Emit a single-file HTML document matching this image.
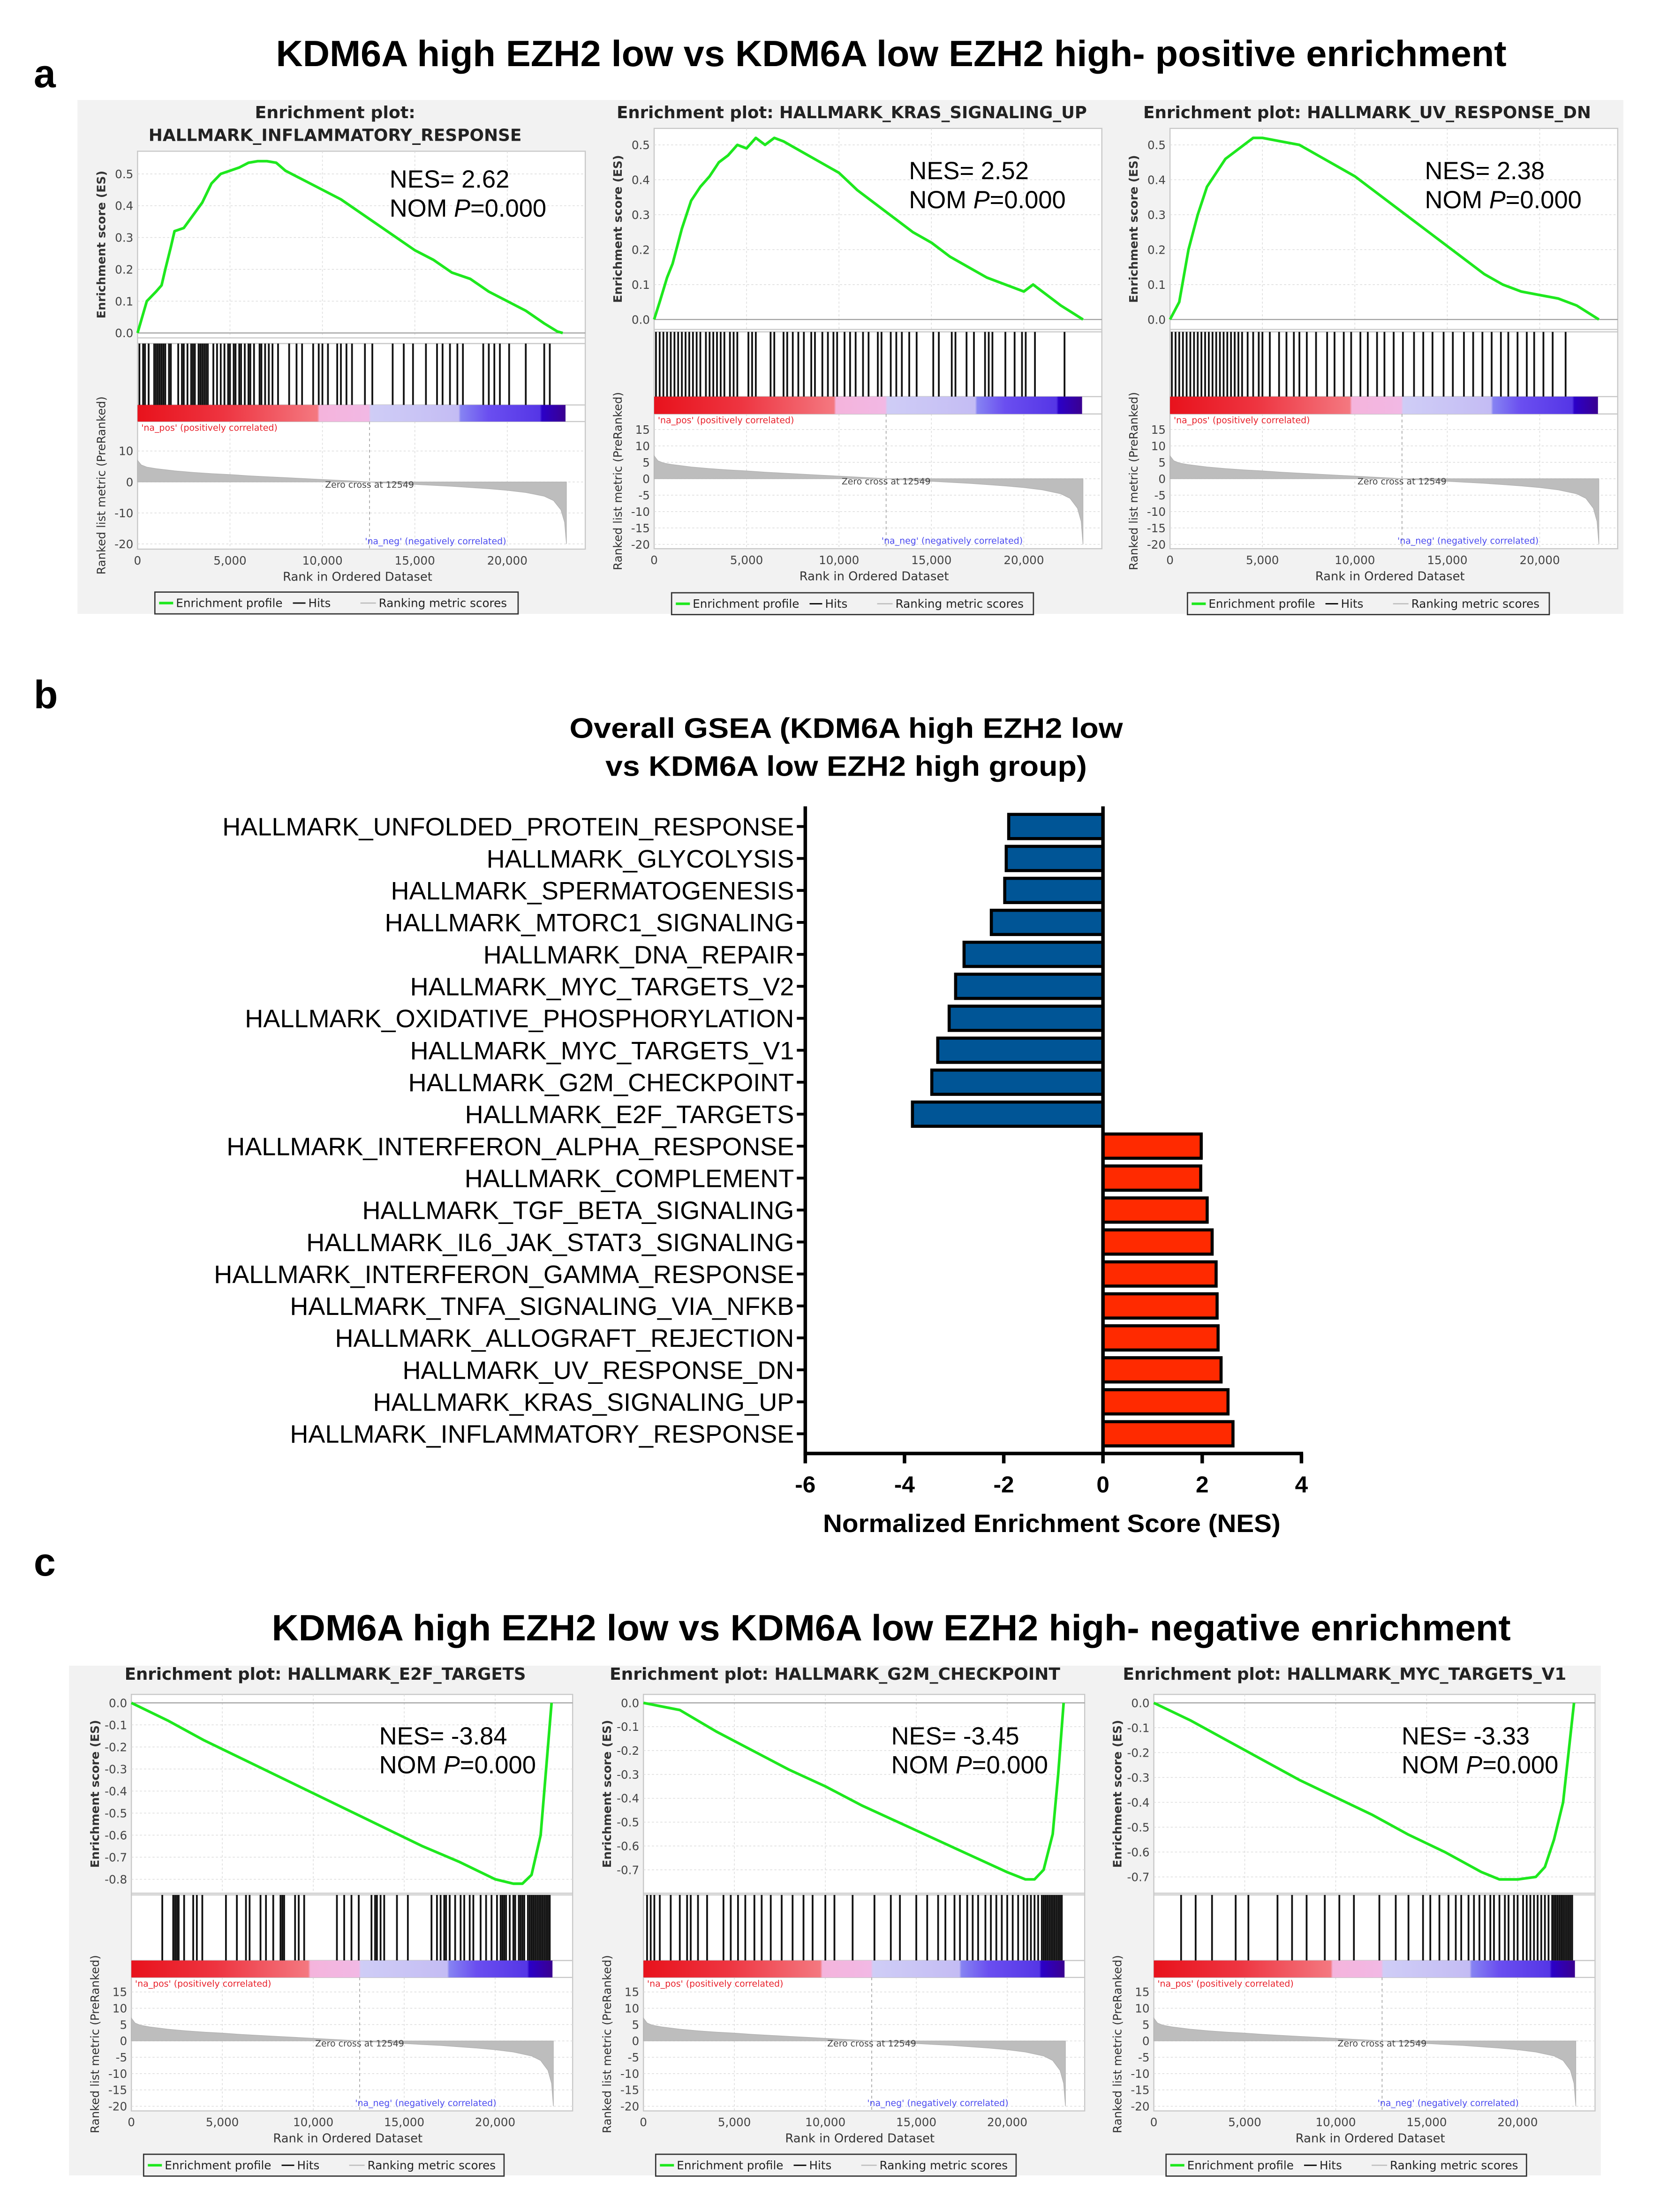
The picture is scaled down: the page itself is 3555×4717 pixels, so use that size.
<!DOCTYPE html>
<html><head><meta charset="utf-8"><title>GSEA KDM6A EZH2</title>
<style>
html,body{margin:0;padding:0;background:#fff;}
svg{display:block;}
</style></head>
<body>
<svg id="root" xmlns="http://www.w3.org/2000/svg" width="3555" height="4717" viewBox="0 0 1184 1571" preserveAspectRatio="none">
<rect x="0" y="0" width="1184" height="1571" fill="#fff"/>
<text x="24" y="62" font-family="Liberation Sans, sans-serif" font-weight="bold" font-size="28">a</text>
<text x="633" y="47" text-anchor="middle" textLength="874" lengthAdjust="spacingAndGlyphs" font-family="Liberation Sans, sans-serif" font-weight="bold" font-size="26">KDM6A high EZH2 low vs KDM6A low EZH2 high- positive enrichment</text>
<rect x="55" y="71" width="1098" height="365" fill="#f2f2f2"/>
<text x="24" y="503" font-family="Liberation Sans, sans-serif" font-weight="bold" font-size="28">b</text>
<text x="601" y="524" text-anchor="middle" textLength="393" lengthAdjust="spacingAndGlyphs" font-family="Liberation Sans, sans-serif" font-weight="bold" font-size="20">Overall GSEA (KDM6A high EZH2 low</text>
<text x="601" y="551" text-anchor="middle" textLength="342" lengthAdjust="spacingAndGlyphs" font-family="Liberation Sans, sans-serif" font-weight="bold" font-size="20">vs KDM6A low EZH2 high group)</text>
<text x="24" y="1119" font-family="Liberation Sans, sans-serif" font-weight="bold" font-size="28">c</text>
<text x="633" y="1165" text-anchor="middle" textLength="880" lengthAdjust="spacingAndGlyphs" font-family="Liberation Sans, sans-serif" font-weight="bold" font-size="26">KDM6A high EZH2 low vs KDM6A low EZH2 high- negative enrichment</text>
<rect x="49" y="1183" width="1088" height="362" fill="#f2f2f2"/>
<defs id="defs"></defs>
</svg>
<script>
// ---------- GSEA data (rank in thousands) ----------
const esInflRank = [0,0.3,0.5,1,1.3,1.5,1.8,2,2.5,3,3.5,4,4.5,5,5.5,6,6.5,7,7.5,8,9,10,11,12,13,14,15,16,17,18,19,20,21,22,22.7,23];
const esInflVal  = [0,0.06,0.1,0.13,0.15,0.2,0.27,0.32,0.33,0.37,0.41,0.47,0.5,0.51,0.52,0.535,0.54,0.54,0.535,0.51,0.48,0.45,0.42,0.38,0.34,0.3,0.26,0.23,0.19,0.17,0.13,0.1,0.07,0.03,0.005,0];
const esKrasRank = [0,0.3,0.7,1,1.5,2,2.5,3,3.5,4,4.5,5,5.5,6,6.5,7,8,9,10,11,12,13,14,15,16,17,18,19,20,20.5,21,22,23.2];
const esKrasVal  = [0,0.05,0.12,0.16,0.26,0.34,0.38,0.41,0.45,0.47,0.5,0.49,0.52,0.5,0.52,0.51,0.48,0.45,0.42,0.37,0.33,0.29,0.25,0.22,0.18,0.15,0.12,0.1,0.08,0.1,0.08,0.04,0];
const esUvRank = [0,0.5,1,1.5,2,2.5,3,3.5,4,4.5,5,6,7,8,9,10,11,12,13,14,15,16,17,18,19,20,21,22,23.2];
const esUvVal  = [0,0.05,0.2,0.3,0.38,0.42,0.46,0.48,0.5,0.52,0.52,0.51,0.5,0.47,0.44,0.41,0.37,0.33,0.29,0.25,0.21,0.17,0.13,0.1,0.08,0.07,0.06,0.04,0];
const esE2fRank = [0,2,4,6,8,10,12,14,16,18,20,21,21.5,22,22.5,22.8,23.1];
const esE2fVal  = [0,-0.08,-0.17,-0.25,-0.33,-0.41,-0.49,-0.57,-0.65,-0.72,-0.8,-0.82,-0.82,-0.78,-0.6,-0.3,0];
const esG2mRank = [0,2,4,6,8,10,12,14,16,18,20,21,21.5,22,22.5,22.8,23.1];
const esG2mVal  = [0,-0.03,-0.12,-0.2,-0.28,-0.35,-0.43,-0.5,-0.57,-0.64,-0.71,-0.74,-0.74,-0.7,-0.55,-0.3,0];
const esMycRank = [0,2,4,6,8,10,12,14,16,18,19,20,21,21.5,22,22.5,22.8,23.1];
const esMycVal  = [0,-0.07,-0.15,-0.23,-0.31,-0.38,-0.45,-0.53,-0.6,-0.68,-0.71,-0.71,-0.7,-0.66,-0.55,-0.4,-0.2,0];

const hitsInfl = [0.1,0.3,0.4,0.6,0.9,1.0,1.1,1.2,1.3,1.4,1.5,1.7,1.8,2.2,2.4,2.5,2.7,2.9,3.0,3.1,3.3,3.4,3.5,3.6,3.7,3.8,4.1,4.3,4.5,4.7,4.9,5.0,5.2,5.3,5.5,5.6,5.8,6.0,6.1,6.3,6.6,6.7,6.9,7.1,7.3,7.6,8.2,8.6,8.9,9.5,9.8,10.0,10.3,10.8,11.0,11.3,11.6,12.3,12.7,13.8,14.4,14.9,15.6,16.2,16.5,16.9,17.3,17.6,18.7,19.0,19.3,19.6,20.1,21.0,22.0,22.3];
const hitsKras = [0.1,0.3,0.5,0.7,0.9,1.1,1.3,1.5,1.7,1.9,2.1,2.3,2.5,2.8,3.0,3.2,3.4,3.6,3.8,4.1,4.3,4.5,5.1,5.3,5.5,6.3,6.5,7.0,7.2,7.5,7.8,8.1,8.5,8.7,9.1,9.4,9.7,9.9,10.3,10.6,10.9,11.3,11.6,12.1,12.3,12.8,13.1,13.4,13.8,14.2,15.1,15.4,16.1,16.3,16.9,17.3,17.9,18.1,18.3,19.0,19.5,19.9,20.1,20.6,22.2];
const hitsUv = [0.1,0.3,0.5,0.7,0.9,1.1,1.3,1.5,1.7,1.9,2.1,2.3,2.5,2.7,2.9,3.1,3.3,3.5,3.7,3.9,4.2,4.5,4.8,5.0,5.4,5.9,6.3,6.7,7.0,7.4,7.9,8.5,8.9,9.4,9.8,10.3,10.7,11.2,11.6,12.1,12.6,13.2,13.7,14.2,14.8,15.3,15.9,16.4,16.9,17.4,17.9,18.3,18.8,19.3,19.7,20.2,20.7,21.4];
const hitsE2f = [1.7,2.3,2.4,2.5,2.6,2.9,3.4,3.6,3.9,5.2,5.8,6.3,6.5,7.1,7.4,7.8,8.2,8.3,8.4,9.0,9.2,9.5,11.3,11.7,12.1,12.5,13.2,13.4,13.5,13.7,13.9,14.6,15.2,16.5,16.8,17.0,17.2,17.3,17.5,17.8,18.1,18.3,18.6,18.8,19.2,19.5,19.8,20.1,20.3,20.4,20.5,20.6,20.8,21.0,21.1,21.3,21.4,21.5,21.6,21.8,21.9,22.0,22.1,22.2,22.3,22.4,22.5,22.6,22.7,22.8,22.9,23.0];
const hitsG2m = [0.2,0.4,0.6,0.9,1.5,2.0,2.4,2.6,3.0,3.5,4.4,4.8,5.2,5.6,6.1,6.5,7.0,7.6,8.2,8.8,9.3,10.0,10.5,11.5,12.7,13.6,14.1,15.0,15.6,16.2,16.6,17.1,17.4,17.8,18.1,18.4,18.8,19.1,19.4,19.7,20.0,20.3,20.6,20.9,21.1,21.3,21.5,21.7,21.9,22.0,22.1,22.2,22.3,22.4,22.5,22.6,22.7,22.8,22.9,23.0];
const hitsMyc = [1.5,2.3,3.2,4.5,5.2,6.8,7.6,8.4,9.4,10.2,11.0,12.4,13.3,14.0,14.8,15.2,15.7,16.2,16.6,16.9,17.3,17.6,17.9,18.2,18.5,18.7,19.0,19.3,19.5,19.8,20.0,20.3,20.5,20.7,20.9,21.1,21.3,21.5,21.7,21.9,22.0,22.1,22.2,22.3,22.4,22.5,22.6,22.7,22.8,22.9,23.0];

const metricRank = [0,0.2,0.5,1,2,3,4,5,6,7,8,9,10,11,12,12.549,13,14,15,16,17,18,19,20,21,22,22.5,22.9,23.1,23.2];
const metricVal  = [7,5.5,4.8,4.3,3.6,3.1,2.7,2.4,2.0,1.7,1.4,1.1,0.8,0.5,0.2,0,-0.2,-0.5,-0.8,-1.1,-1.4,-1.8,-2.2,-2.7,-3.4,-4.6,-6,-9,-13,-20];
const zeroCross = 12.549;
const rankTicks = [0,5,10,15,20];
const rankTickLabels = ['0','5,000','10,000','15,000','20,000'];

// ---------- Bar chart data ----------
const barCategories = ['HALLMARK_UNFOLDED_PROTEIN_RESPONSE','HALLMARK_GLYCOLYSIS','HALLMARK_SPERMATOGENESIS','HALLMARK_MTORC1_SIGNALING','HALLMARK_DNA_REPAIR','HALLMARK_MYC_TARGETS_V2','HALLMARK_OXIDATIVE_PHOSPHORYLATION','HALLMARK_MYC_TARGETS_V1','HALLMARK_G2M_CHECKPOINT','HALLMARK_E2F_TARGETS','HALLMARK_INTERFERON_ALPHA_RESPONSE','HALLMARK_COMPLEMENT','HALLMARK_TGF_BETA_SIGNALING','HALLMARK_IL6_JAK_STAT3_SIGNALING','HALLMARK_INTERFERON_GAMMA_RESPONSE','HALLMARK_TNFA_SIGNALING_VIA_NFKB','HALLMARK_ALLOGRAFT_REJECTION','HALLMARK_UV_RESPONSE_DN','HALLMARK_KRAS_SIGNALING_UP','HALLMARK_INFLAMMATORY_RESPONSE'];
const barNES = [-1.9,-1.95,-1.98,-2.25,-2.8,-2.97,-3.1,-3.33,-3.45,-3.84,1.98,1.97,2.1,2.2,2.28,2.3,2.32,2.38,2.52,2.62];
const nesTicks = [-6,-4,-2,0,2,4];
const nesTickLabels = ['-6','-4','-2','0','2','4'];

const NS = 'http://www.w3.org/2000/svg';
const root = document.getElementById('root');
const defs = document.getElementById('defs');
function mk(tag, attrs, parent){
  const e = document.createElementNS(NS, tag);
  for (const k in attrs) e.setAttribute(k, attrs[k]);
  (parent || root).appendChild(e);
  return e;
}
const GF = 'DejaVu Sans, Liberation Sans, sans-serif';

function drawPanel(c){
  const g = mk('g', {});
  
  
  const X = r => c.x0 + r * c.pxk;
  const Yes = v => c.es0 - v * c.esS;
  const Ym = v => c.m0 - v * c.mS;
  let e;
  e = mk('rect', {x:c.x0, y:c.esTop, width:c.w, height:c.mBot-c.esTop, fill:'#fff', stroke:'#c8c8c8', 'stroke-width':0.8}, g);
  
  
  rankTicks.forEach((t, i) => {
    if (t === 0) return;
    e = mk('line', {x1:X(t), x2:X(t), y1:c.esTop, y2:c.esBot, stroke:'#dcdcdc', 'stroke-width':0.5, 'stroke-dasharray':'1.5,1.5'}, g);
    
    
    e = mk('line', {x1:X(t), x2:X(t), y1:c.barBot, y2:c.mBot, stroke:'#dcdcdc', 'stroke-width':0.5, 'stroke-dasharray':'1.5,1.5'}, g);
    
    
  });
  c.esTicks.forEach(t => {
    e = mk('line', {x1:c.x0, x2:c.x0+c.w, y1:Yes(t), y2:Yes(t), stroke:t===0?'#999':'#dcdcdc', 'stroke-width':t===0?0.7:0.5, 'stroke-dasharray':t===0?'none':'1.5,1.5'}, g);
    
    
    e = mk('text', {x:c.x0-3, y:Yes(t)+3, 'text-anchor':'end', 'font-family':GF, 'font-size':8.2, fill:'#444'}, g);
    e.textContent = t.toFixed(1);
    
    
  });
  [c.esBot, c.hitTop, c.barTop, c.barBot].forEach(yy => {
    e = mk('line', {x1:c.x0, x2:c.x0+c.w, y1:yy, y2:yy, stroke:'#c8c8c8', 'stroke-width':0.8}, g);
    
    
  });
  const pts = c.esR.map((r, i) => X(r).toFixed(2) + ',' + Yes(c.esV[i]).toFixed(2)).join(' ');
  e = mk('polyline', {points:pts, fill:'none', stroke:'#1ee81e', 'stroke-width':1.9, 'stroke-linejoin':'round'}, g);
  
  
  c.hits.forEach(h => {
    e = mk('line', {x1:X(h), x2:X(h), y1:c.hitTop, y2:c.barTop, stroke:'#111', 'stroke-width':1.25}, g);
    
    
  });
  const gid = 'grad-' + c.name;
  const lg = mk('linearGradient', {id:gid, gradientUnits:'userSpaceOnUse', x1:X(0), x2:X(23.15), y1:0, y2:0}, defs);
  [[0,'#e8121c'],[0.2,'#ee3440'],[0.42,'#f47880'],[0.425,'#f4b4dc'],[0.54,'#f2b8e4'],[0.545,'#cfcdf6'],[0.75,'#c4bcf4'],[0.755,'#8683f2'],[0.82,'#6a4ef0'],[0.94,'#5536e6'],[0.945,'#2b00c8'],[1,'#3a0090']].forEach(s => {
    mk('stop', {offset:s[0], 'stop-color':s[1]}, lg);
  });
  e = mk('rect', {x:X(0), y:c.barTop, width:X(23.15)-X(0), height:c.barBot-c.barTop, fill:'url(#'+gid+')'}, g);
  
  
  c.mTicks.forEach(t => {
    e = mk('line', {x1:c.x0, x2:c.x0+c.w, y1:Ym(t), y2:Ym(t), stroke:'#dcdcdc', 'stroke-width':0.5, 'stroke-dasharray':'1.5,1.5'}, g);
    
    
    e = mk('text', {x:c.x0-3, y:Ym(t)+3, 'text-anchor':'end', 'font-family':GF, 'font-size':8.2, fill:'#444'}, g);
    e.textContent = String(t);
    
    
  });
  let d = 'M' + X(0) + ',' + Ym(0);
  metricRank.forEach((r, i) => { d += ' L' + X(r).toFixed(2) + ',' + Ym(metricVal[i]).toFixed(2); });
  d += ' L' + X(metricRank[metricRank.length-1]) + ',' + Ym(0) + ' Z';
  e = mk('path', {d:d, fill:'#bdbdbd', stroke:'#b0b0b0', 'stroke-width':0.4}, g);
  
  
  e = mk('line', {x1:X(zeroCross), x2:X(zeroCross), y1:c.barBot, y2:c.mBot, stroke:'#aaa', 'stroke-width':0.6, 'stroke-dasharray':'2,2'}, g);
  
  
  e = mk('text', {x:X(zeroCross), y:Ym(0)+4, 'text-anchor':'middle', 'font-family':GF, 'font-size':6.3, fill:'#444'}, g);
  e.textContent = 'Zero cross at 12549';
  
  
  e = mk('text', {x:X(0.2), y:c.barBot+6.5, 'font-family':GF, 'font-size':6.3, fill:'#e8202a'}, g);
  e.textContent = "'na_pos' (positively correlated)";
  
  
  e = mk('text', {x:X(12.3), y:c.mBot-3.5, 'font-family':GF, 'font-size':6.3, fill:'#4a4af0'}, g);
  e.textContent = "'na_neg' (negatively correlated)";
  
  
  rankTicks.forEach((t, i) => {
    e = mk('text', {x:X(t), y:c.tickY+3, 'text-anchor':'middle', 'font-family':GF, 'font-size':8.2, fill:'#444'}, g);
    e.textContent = rankTickLabels[i];
    
    
  });
  e = mk('text', {x:X(11.9), y:c.tickY+14.5, 'text-anchor':'middle', 'font-family':GF, 'font-size':8.6, fill:'#333'}, g);
  e.textContent = 'Rank in Ordered Dataset';
  
  
  const ly = c.x0 - 23;
  const esMid = (c.esTop + c.esBot) / 2;
  e = mk('text', {x:ly, y:esMid, 'text-anchor':'middle', 'font-family':GF, 'font-size':8.4, 'font-weight':'bold', fill:'#333', transform:'rotate(-90 '+ly+' '+esMid+')'}, g);
  e.textContent = 'Enrichment score (ES)';
  
  
  const mMid = (c.barTop + c.mBot) / 2 + 6;
  e = mk('text', {x:ly, y:mMid, 'text-anchor':'middle', 'font-family':GF, 'font-size':8.2, fill:'#333', transform:'rotate(-90 '+ly+' '+mMid+')'}, g);
  e.textContent = 'Ranked list metric (PreRanked)';
  
  
  c.title.forEach((t, i) => {
    e = mk('text', {x:c.titleX, y:c.titleY[i], 'text-anchor':'middle', 'font-family':GF, 'font-size':12, 'font-weight':'bold', fill:'#222', textLength:c.titleW[i], lengthAdjust:'spacingAndGlyphs'}, g);
    e.textContent = t;
    
    
  });
  e = mk('text', {x:c.x0+c.nesDx, y:c.nesY, 'font-family':'Liberation Sans, sans-serif', 'font-size':17.5, fill:'#000'}, g);
  e.textContent = c.nes;
  
  
  e = mk('text', {x:c.x0+c.nesDx, y:c.nesY+20.5, 'font-family':'Liberation Sans, sans-serif', 'font-size':17.5, fill:'#000'}, g);
  
  
  const t1 = mk('tspan', {}, e); t1.textContent = 'NOM ';
  const t2 = mk('tspan', {'font-style':'italic'}, e); t2.textContent = 'P';
  const t3 = mk('tspan', {}, e); t3.textContent = '=0.000';
  const lx = c.x0 + c.legDx;
  e = mk('rect', {x:lx, y:c.legY, width:c.legW, height:15.5, fill:'#f2f2f2', stroke:'#333', 'stroke-width':0.9}, g);
  
  
  const cy = c.legY + 7.8;
  e = mk('line', {x1:lx+3, x2:lx+13, y1:cy, y2:cy, stroke:'#1ee81e', 'stroke-width':1.8}, g);
  
  
  e = mk('text', {x:lx+15, y:cy+2.9, 'font-family':GF, 'font-size':8.2, fill:'#222'}, g);
  e.textContent = 'Enrichment profile';
  
  
  e = mk('line', {x1:lx+98, x2:lx+107, y1:cy, y2:cy, stroke:'#111', 'stroke-width':1}, g);
  
  
  e = mk('text', {x:lx+109, y:cy+2.9, 'font-family':GF, 'font-size':8.2, fill:'#222'}, g);
  e.textContent = 'Hits';
  
  
  e = mk('line', {x1:lx+146, x2:lx+157, y1:cy, y2:cy, stroke:'#bbb', 'stroke-width':0.8}, g);
  
  
  e = mk('text', {x:lx+159, y:cy+2.9, 'font-family':GF, 'font-size':8.2, fill:'#222'}, g);
  e.textContent = 'Ranking metric scores';
  
  
}

const esTicksPos = [0,0.1,0.2,0.3,0.4,0.5];
const mTicksA1 = [10,0,-10,-20];
const mTicksStd = [15,10,5,0,-5,-10,-15,-20];
const esTicksE2f = [0,-0.1,-0.2,-0.3,-0.4,-0.5,-0.6,-0.7,-0.8];
const esTicksG2m = [0,-0.1,-0.2,-0.3,-0.4,-0.5,-0.6,-0.7];

const rowA2 = {esTop:91.2, esBot:234, es0:226.9, esS:248, hitTop:235.7, barTop:281.7, barBot:294, mBot:389.7, m0:340, mS:2.33, mTicks:mTicksStd, tickY:397.7, legY:421, legW:257, legDx:12.4, nesDx:181, nesY:127.3, titleY:[84]};
drawPanel(Object.assign({name:'inflammatory-response-plot', x0:97.7, w:318, pxk:13.13, esTop:107.4, esBot:240, es0:236.5, esS:226, esTicks:esTicksPos, hitTop:244, barTop:287.6, barBot:299.4, mBot:390, m0:342.3, mS:2.2, mTicks:mTicksA1, tickY:398, legY:420.5, legW:258, legDx:12.3, nesDx:179, nesY:133.3, esR:esInflRank, esV:esInflVal, hits:hitsInfl, title:['Enrichment plot:','HALLMARK_INFLAMMATORY_RESPONSE'], titleX:238, titleY:[84,100], titleW:[114,265], nes:'NES= 2.62'}));
drawPanel(Object.assign({}, rowA2, {name:'kras-signaling-up-plot', x0:464.6, w:318, pxk:13.13, esTicks:esTicksPos, esR:esKrasRank, esV:esKrasVal, hits:hitsKras, title:['Enrichment plot: HALLMARK_KRAS_SIGNALING_UP'], titleX:605, titleW:[334], nes:'NES= 2.52'}));
drawPanel(Object.assign({}, rowA2, {name:'uv-response-dn-plot', x0:831, w:318, pxk:13.13, esTicks:esTicksPos, esR:esUvRank, esV:esUvVal, hits:hitsUv, title:['Enrichment plot: HALLMARK_UV_RESPONSE_DN'], titleX:971, titleW:[318], nes:'NES= 2.38'}));

const rowC = {w:313.4, pxk:12.92, esTop:1203.4, esBot:1344.6, es0:1209.4, hitTop:1345.8, barTop:1392.4, barBot:1404.4, mBot:1499.2, m0:1449.5, mS:2.32, mTicks:mTicksStd, tickY:1507, legY:1530, legW:256, legDx:8.7, nesDx:176, nesY:1239, titleY:[1193]};
drawPanel(Object.assign({}, rowC, {name:'e2f-targets-plot', x0:93.3, esS:156.6, esTicks:esTicksE2f, esR:esE2fRank, esV:esE2fVal, hits:hitsE2f, title:['Enrichment plot: HALLMARK_E2F_TARGETS'], titleX:231, titleW:[285], nes:'NES= -3.84'}));
drawPanel(Object.assign({}, rowC, {name:'g2m-checkpoint-plot', x0:457, esS:169.4, esTicks:esTicksG2m, esR:esG2mRank, esV:esG2mVal, hits:hitsG2m, title:['Enrichment plot: HALLMARK_G2M_CHECKPOINT'], titleX:593, titleW:[320], nes:'NES= -3.45'}));
drawPanel(Object.assign({}, rowC, {name:'myc-targets-v1-plot', x0:819.5, esS:176.6, esTicks:esTicksG2m, esR:esMycRank, esV:esMycVal, hits:hitsMyc, title:['Enrichment plot: HALLMARK_MYC_TARGETS_V1'], titleX:955, titleW:[315], nes:'NES= -3.33'}));

// ---------- Bar chart ----------
(function(){
  const g = mk('g', {});
  
  
  const xS = v => 783.4 + v * 35.24;
  const yRow = i => 587 + i * 22.7;
  const axTop = 572.7, axBot = 1032.3, axL = xS(-6), axR = xS(4);
  let e;
  barNES.forEach((v, i) => {
    const x1 = Math.min(xS(0), xS(v)), x2 = Math.max(xS(0), xS(v));
    e = mk('rect', {x:x1, y:yRow(i)-8.6, width:x2-x1, height:17.2, fill:v<0?'#005596':'#ff2a00', stroke:'#000', 'stroke-width':2.2}, g);
    
    
    e = mk('line', {x1:axL-6, x2:axL, y1:yRow(i), y2:yRow(i), stroke:'#000', 'stroke-width':2}, g);
    
    
    e = mk('text', {x:axL-8, y:yRow(i)+6.4, 'text-anchor':'end', 'font-family':'Liberation Sans, sans-serif', 'font-size':18, fill:'#000'}, g);
    e.textContent = barCategories[i];
    
    
  });
  e = mk('line', {x1:axL, x2:axL, y1:axTop, y2:axBot+1.2, stroke:'#000', 'stroke-width':2.5}, g);
  
  
  e = mk('line', {x1:xS(0), x2:xS(0), y1:axTop, y2:axBot, stroke:'#000', 'stroke-width':2.5}, g);
  
  
  e = mk('line', {x1:axL-1.2, x2:axR+1.2, y1:axBot, y2:axBot, stroke:'#000', 'stroke-width':2.5}, g);
  
  
  nesTicks.forEach((t, i) => {
    e = mk('line', {x1:xS(t), x2:xS(t), y1:axBot, y2:axBot+7, stroke:'#000', 'stroke-width':2.5}, g);
    
    
    e = mk('text', {x:xS(t), y:1060, 'text-anchor':'middle', 'font-family':'Liberation Sans, sans-serif', 'font-weight':'bold', 'font-size':16.5, fill:'#000'}, g);
    e.textContent = nesTickLabels[i];
    
    
  });
  e = mk('text', {x:747, y:1088, 'text-anchor':'middle', textLength:325, lengthAdjust:'spacingAndGlyphs', 'font-family':'Liberation Sans, sans-serif', 'font-weight':'bold', 'font-size':18, fill:'#000'}, g);
  e.textContent = 'Normalized Enrichment Score (NES)';
  
  
})();
</script>
</body></html>
